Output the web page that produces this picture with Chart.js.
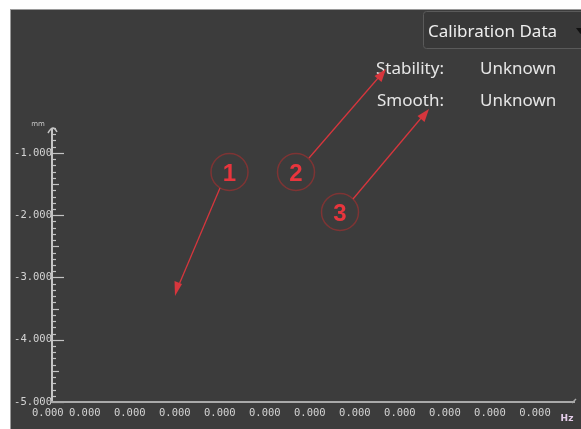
<!DOCTYPE html>
<html>
<head>
<meta charset="utf-8">
<script src="https://cdn.jsdelivr.net/npm/chart.js@4/dist/chart.umd.min.js"></script>
<style>
  html, body { margin:0; padding:0; }
  body { width:581px; height:429px; background:#ffffff; overflow:hidden; position:relative; }
  #panel { position:absolute; left:10px; top:9px; width:571px; height:420px; background:#3c3c3c;
           border-top:1px solid #9a9a9a; border-left:1px solid #9a9a9a; box-sizing:border-box; }
  #c { position:absolute; left:0; top:0; }
  #ann { position:absolute; left:0; top:0; }
</style>
</head>
<body>
<div id="panel"></div>
<canvas id="c" width="581" height="429"></canvas>
<svg id="ann" width="581" height="429" xmlns="http://www.w3.org/2000/svg">
  <!-- dropdown -->
  <rect x="423.5" y="11.5" width="170" height="37" rx="3" ry="3" fill="#383838" stroke="#5a5a5a" stroke-width="1"/>
  <text x="428" y="37" font-family="Noto Sans" font-size="17" fill="#eeeeee">Calibration Data</text>
  <polygon points="576,28 585,28 580.5,34" fill="#111111"/>
  <!-- status texts -->
  <text x="376" y="74" font-family="Noto Sans" font-size="17" fill="#e6e6e6">Stability:</text>
  <text x="480" y="74" font-family="Noto Sans" font-size="17" fill="#e6e6e6">Unknown</text>
  <text x="377" y="106" font-family="Noto Sans" font-size="17" fill="#e6e6e6">Smooth:</text>
  <text x="480" y="106" font-family="Noto Sans" font-size="17" fill="#e6e6e6">Unknown</text>
  <!-- annotations -->
  <g fill="none" stroke="#7e3434" stroke-width="1.5">
    <circle cx="229.5" cy="172" r="18.5"/>
    <circle cx="296" cy="172" r="18.5"/>
    <circle cx="340" cy="212" r="18.5"/>
  </g>
  <g font-family="Liberation Sans" font-weight="bold" font-size="24" fill="#e8353d" text-anchor="middle">
    <text x="229.5" y="180.5">1</text>
    <text x="296" y="180.5">2</text>
    <text x="340" y="220.5">3</text>
  </g>
  <g stroke="#d6363d" stroke-width="1.3">
    <line x1="220" y1="188" x2="178" y2="287"/>
    <line x1="309" y1="158" x2="379" y2="77"/>
    <line x1="353" y1="199" x2="422" y2="117"/>
  </g>
  <g fill="#d6363d">
    <polygon points="175,296 174.5,281 182,284"/>
    <polygon points="386,69 381.5,82 374.5,76"/>
    <polygon points="429,109 424.5,122 417.5,116"/>
  </g>
</svg>
<script>
// ---- data ----
const xTickValues = [-0.82, 0, 1, 2, 3, 4, 5, 6, 7, 8, 9, 10];
const xTickLabels = ['0.000','0.000','0.000','0.000','0.000','0.000','0.000','0.000','0.000','0.000','0.000','0.000'];
const yTickValues = [-5, -4, -3, -2, -1];
const yTickLabels = ['-5.000','-4.000','-3.000','-2.000','-1.000'];
const seriesValues = []; // no calibration curve is drawn (data unknown)
const xUnit = 'Hz';
const yUnit = 'mm';

const tickFont = { family: 'DejaVu Sans Mono', size: 10.5 };
const tickColor = '#d4d4d4';

const axisPlugin = {
  id: 'axisPlugin',
  afterDraw(chart) {
    const ctx = chart.ctx;
    const ca = chart.chartArea;
    const ys = chart.scales.y;
    const ax = ca.left + 1;
    ctx.save();
    // y axis line
    ctx.strokeStyle = '#c4c4c4';
    ctx.lineWidth = 2;
    ctx.beginPath();
    ctx.moveTo(ax, ca.bottom);
    ctx.lineTo(ax, ca.top);
    ctx.stroke();
    // arrow head at top
    ctx.lineWidth = 1.5;
    ctx.beginPath();
    ctx.moveTo(ax - 4, ca.top + 5);
    ctx.quadraticCurveTo(ax - 1, ca.top, ax + 1, ca.top);
    ctx.quadraticCurveTo(ax + 3, ca.top, ax + 5, ca.top + 4);
    ctx.stroke();
    // minor / major ticks on the right side of the axis
    ctx.lineWidth = 1.2;
    for (let k = Math.round(ys.min * 10); k <= Math.round(ys.max * 10); k++) {
      const v = k / 10;
      const y = Math.round(ys.getPixelForValue(v)) + 0.5;
      let len = 4;
      if (k % 10 === 0) len = 12; else if (k % 5 === 0) len = 7;
      ctx.beginPath();
      ctx.moveTo(ax, y);
      ctx.lineTo(ax + len, y);
      ctx.stroke();
    }
    // x axis line
    ctx.strokeStyle = '#a9a9a9';
    ctx.lineWidth = 2;
    ctx.beginPath();
    ctx.moveTo(ca.left, ca.bottom);
    ctx.lineTo(ca.right, ca.bottom);
    ctx.stroke();
    ctx.lineWidth = 1.5;
    ctx.beginPath();
    ctx.moveTo(ca.right - 3, ca.bottom + 1);
    ctx.lineTo(ca.right + 1, ca.bottom - 3);
    ctx.stroke();
    // units
    ctx.fillStyle = '#c8c8c8';
    ctx.font = '7px "DejaVu Sans"';
    ctx.textAlign = 'center';
    ctx.textBaseline = 'middle';
    ctx.fillText(yUnit, ca.left - 13, ca.top - 4);
    ctx.fillStyle = '#e4cdea';
    ctx.font = 'bold 9px "DejaVu Sans"';
    ctx.fillText(xUnit, ca.right - 8, ca.bottom + 17);
    ctx.restore();
  }
};

new Chart(document.getElementById('c'), {
  type: 'scatter',
  data: {
    datasets: [{ data: seriesValues, borderColor: '#e0e0e0', showLine: true, pointRadius: 0 }]
  },
  options: {
    responsive: false,
    animation: false,
    events: [],
    layout: { padding: { top: 128, right: 6, left: 0, bottom: 0 } },
    plugins: { legend: { display: false }, tooltip: { enabled: false } },
    scales: {
      x: {
        type: 'linear',
        min: -0.75,
        max: 10.89,
        afterBuildTicks: s => { s.ticks = xTickValues.map(v => ({ value: v })); },
        afterFit: s => { s.height = 27; },
        grid: { display: false, drawTicks: false },
        border: { display: false },
        ticks: {
          autoSkip: false, maxRotation: 0, padding: 5,
          color: tickColor, font: tickFont,
          callback: (v, i) => xTickLabels[i]
        }
      },
      y: {
        type: 'linear',
        min: -5,
        max: -0.6,
        afterBuildTicks: s => { s.ticks = yTickValues.map(v => ({ value: v })); },
        afterFit: s => { s.width = 51; },
        grid: { display: false, drawTicks: false },
        border: { display: false },
        ticks: {
          autoSkip: false, padding: -1,
          color: tickColor, font: tickFont,
          callback: (v, i) => yTickLabels[i]
        }
      }
    }
  },
  plugins: [axisPlugin]
});
</script>
</body>
</html>
